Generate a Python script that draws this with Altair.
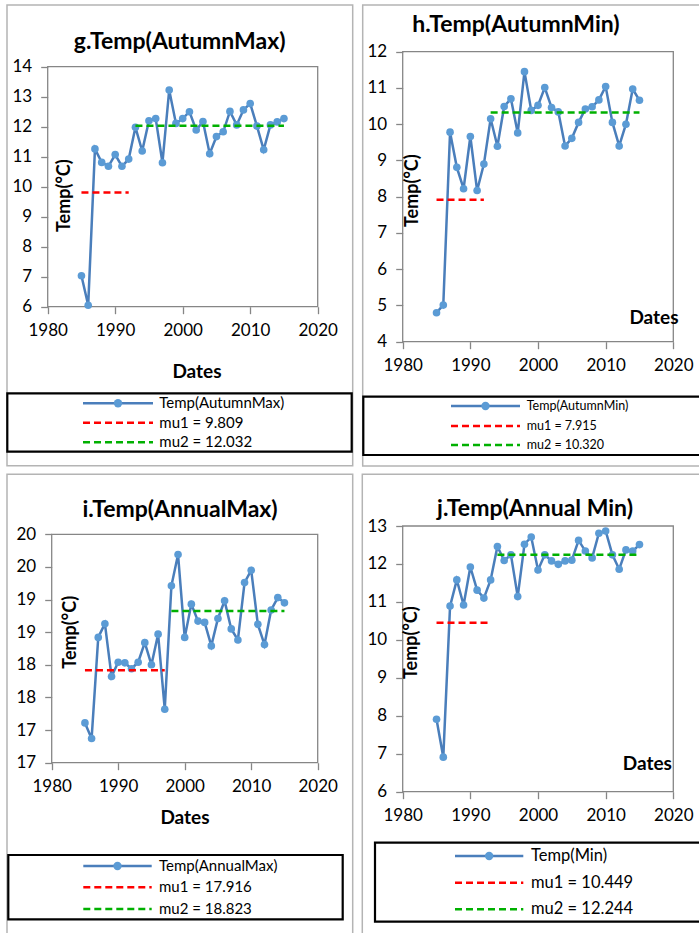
import altair as alt
import pandas as pd

# ---------------- data ----------------
years = list(range(1985, 2016))
autumn_max = [7.03, 6.05, 11.26, 10.81, 10.68, 11.07, 10.68, 10.92, 11.98, 11.19, 12.20,
              12.27, 10.80, 13.22, 12.11, 12.27, 12.50, 11.89, 12.17, 11.10, 11.67, 11.83,
              12.51, 12.06, 12.56, 12.77, 12.02, 11.23, 12.06, 12.16, 12.27]
autumn_min = [4.80, 5.01, 9.78, 8.81, 8.22, 9.66, 8.17, 8.90, 10.15, 9.39, 10.49,
              10.70, 9.76, 11.45, 10.38, 10.52, 11.01, 10.46, 10.34, 9.40, 9.61, 10.05,
              10.42, 10.48, 10.67, 11.04, 10.05, 9.40, 10.00, 10.97, 10.66]
annual_max = [17.11, 16.87, 18.42, 18.63, 17.82, 18.04, 18.03, 17.94, 18.04, 18.34, 18.00,
              18.47, 17.32, 19.21, 19.69, 18.42, 18.93, 18.67, 18.65, 18.29, 18.71, 18.98,
              18.55, 18.38, 19.26, 19.45, 18.62, 18.31, 18.84, 19.03, 18.95]
annual_min = [7.91, 6.91, 10.89, 11.58, 10.92, 11.92, 11.31, 11.10, 11.58, 12.46, 12.09,
              12.24, 11.14, 12.52, 12.71, 11.84, 12.24, 12.08, 11.99, 12.08, 12.10, 12.62,
              12.34, 12.16, 12.81, 12.87, 12.24, 11.86, 12.37, 12.34, 12.51]

series = [autumn_max, autumn_min, annual_max, annual_min]
titles = ["g.Temp(AutumnMax)", "h.Temp(AutumnMin)", "i.Temp(AnnualMax)", "j.Temp(Annual Min)"]
series_names = ["Temp(AutumnMax)", "Temp(AutumnMin)", "Temp(AnnualMax)", "Temp(Min)"]
mu1 = [9.809, 7.915, 17.916, 10.449]
mu2 = [12.032, 10.320, 18.823, 12.244]
mu1_from = [1985, 1985, 1985, 1985]
mu1_to = [1992, 1992, 1997, 1993]
mu2_from = [1993, 1993, 1998, 1994]
mu2_to = [2015, 2015, 2015, 2015]
x_ticks = [1980, 1990, 2000, 2010, 2020]
y_domains = [[6, 14], [4, 12], [16.5, 20], [6, 13]]
y_ticks = [list(range(6, 15)), list(range(4, 13)),
           [16.5, 17, 17.5, 18, 18.5, 19, 19.5, 20], list(range(6, 14))]

# ---------------- layout (pixels) ----------------
W, H = 699, 933
FONT = "Lato"
LINE_C, MARK_C, RED, GREEN = "#4a7ebb", "#5b9bd5", "#ff0000", "#00b000"
AX_C = "#868686"

layout = [
    dict(x0=47.7, x1=317.7, yb=306.7, yt=66.7, title=(179.7, 42), dates=(197, 372.3),
         temp=(65, 195.7), box=(7.3, 351.7, 393.3, 451.7), samp=(83, 153),
         rows=(403.3, 422.7, 442.3), tx=159.3, lfs=15, panel=(7, 352.7, 5, 465.7)),
    dict(x0=402.7, x1=673.3, yb=341.7, yt=51.7, title=(516, 25), dates=(654, 318.3),
         temp=(412.7, 190.7), box=(363.3, 706, 396.7, 455), samp=(451, 520),
         rows=(406, 426, 445), tx=526.7, lfs=12.5, panel=(362.7, 706, 5, 466)),
    dict(x0=51.7, x1=317.7, yb=762.7, yt=534.3, title=(180, 510), dates=(185, 818.3),
         temp=(70.7, 632.3), box=(8.3, 342.7, 855, 919.3), samp=(83.3, 151.7),
         rows=(866, 887.3, 909), tx=159, lfs=15, panel=(7, 352.7, 474.3, 940)),
    dict(x0=402.7, x1=673.3, yb=791.7, yt=526, title=(535, 509.3), dates=(647.3, 764),
         temp=(411.7, 642.7), box=(375, 706, 842.7, 921.7), samp=(455, 523.3),
         rows=(856, 882.7, 909.3), tx=531, lfs=16.5, panel=(362.3, 706, 474.3, 940)),
]


def px(field):
    return alt.X(f"{field}:Q", scale=None, axis=None)


def py(field):
    return alt.Y(f"{field}:Q", scale=None, axis=None)


panels = []
for i, p in enumerate(layout):
    df = pd.DataFrame({"year": years, "temp": series[i]})
    xs = alt.Scale(domain=[1980, 2020], range=[p["x0"], p["x1"]], nice=False, zero=False)
    ys = alt.Scale(domain=y_domains[i], range=[p["yb"], p["yt"]], nice=False, zero=False)
    common = dict(title=None, grid=False, domain=False, tickColor=AX_C, tickWidth=1.3,
                  tickSize=7, labelFont=FONT, labelFontSize=17, labelColor="black",
                  labelOverlap=False, labelFlush=False)
    xax = alt.Axis(orient="bottom", offset=p["yb"] - H, values=x_ticks, format="d",
                   labelPadding=9, **common)
    yax = alt.Axis(orient="left", offset=-p["x0"], values=y_ticks[i], format=".0f",
                   labelPadding=9, **common)
    X = alt.X("year:Q", scale=xs, axis=xax)
    Y = alt.Y("temp:Q", scale=ys, axis=yax)

    line = alt.Chart(df).mark_line(color=LINE_C, strokeWidth=2.5).encode(X, Y)
    pts = alt.Chart(df).mark_circle(color=MARK_C, size=58, opacity=1).encode(X, Y)
    d1 = pd.DataFrame({"year": [mu1_from[i]], "year2": [mu1_to[i]], "temp": [mu1[i]]})
    d2 = pd.DataFrame({"year": [mu2_from[i]], "year2": [mu2_to[i]], "temp": [mu2[i]]})
    r1 = alt.Chart(d1).mark_rule(color=RED, strokeWidth=2.5, strokeDash=[7, 4]).encode(
        X, alt.X2("year2:Q"), Y)
    r2 = alt.Chart(d2).mark_rule(color=GREEN, strokeWidth=2.5, strokeDash=[7, 4]).encode(
        X, alt.X2("year2:Q"), Y)
    panels.append(alt.layer(line, pts, r1, r2))

# ---------------- decorations ----------------
outer = pd.DataFrame([dict(x=p["panel"][0], x2=p["panel"][1], y=p["panel"][2], y2=p["panel"][3])
                      for p in layout])
frames = pd.DataFrame([dict(x=p["x0"], x2=p["x1"], y=p["yt"], y2=p["yb"]) for p in layout])
lboxes = pd.DataFrame([dict(x=p["box"][0], x2=p["box"][1], y=p["box"][2], y2=p["box"][3])
                       for p in layout])


def rects(df, color, width):
    return alt.Chart(df).mark_rect(fill="white", fillOpacity=0, stroke=color,
                                   strokeWidth=width).encode(
        px("x"), alt.X2("x2:Q"), py("y"), alt.Y2("y2:Q"))


deco = [rects(outer, "#b4b4b4", 1.5), rects(frames, AX_C, 1.3), rects(lboxes, "black", 2.2)]

samples = pd.DataFrame([dict(x=p["samp"][0], x2=p["samp"][1], y=p["rows"][k], k=k)
                        for p in layout for k in range(3)])
for k, col, dash in [(0, LINE_C, None), (1, RED, [7, 4]), (2, GREEN, [7, 4])]:
    kw = dict(color=col, strokeWidth=2.5)
    if dash:
        kw["strokeDash"] = dash
    deco.append(alt.Chart(samples[samples.k == k]).mark_rule(**kw).encode(
        px("x"), alt.X2("x2:Q"), py("y")))
marks = pd.DataFrame([dict(x=(p["samp"][0] + p["samp"][1]) / 2, y=p["rows"][0]) for p in layout])
deco.append(alt.Chart(marks).mark_circle(color=MARK_C, size=70, opacity=1).encode(px("x"), py("y")))

ltext = pd.DataFrame([dict(x=p["tx"], y=p["rows"][k], s=p["lfs"],
                           t=[series_names[i], f"mu1 = {mu1[i]:.3f}", f"mu2 = {mu2[i]:.3f}"][k])
                      for i, p in enumerate(layout) for k in range(3)])
deco.append(alt.Chart(ltext).mark_text(font=FONT, align="left", baseline="middle", color="black").encode(
    px("x"), py("y"), text="t:N", size=alt.Size("s:Q", scale=None, legend=None)))

btext = pd.DataFrame(
    [dict(x=p["title"][0], y=p["title"][1], s=23, t=titles[i]) for i, p in enumerate(layout)] +
    [dict(x=p["dates"][0], y=p["dates"][1], s=19, t="Dates") for p in layout])
deco.append(alt.Chart(btext).mark_text(font=FONT, fontWeight="bold", align="center",
                                       baseline="middle", color="black").encode(
    px("x"), py("y"), text="t:N", size=alt.Size("s:Q", scale=None, legend=None)))

ttext = pd.DataFrame([dict(x=p["temp"][0], y=p["temp"][1], s=18, t="Temp(°C)") for p in layout])
deco.append(alt.Chart(ttext).mark_text(font=FONT, fontWeight="bold", align="center",
                                       baseline="middle", angle=270, color="black").encode(
    px("x"), py("y"), text="t:N", size=alt.Size("s:Q", scale=None, legend=None)))

chart = alt.layer(*deco[:2], *panels, *deco[2:]).resolve_scale(
    x="independent", y="independent").properties(
    width=W, height=H, autosize=alt.AutoSizeParams(type="none"), padding=0,
    background="white").configure_view(strokeWidth=0)

chart.save("out.html", embed_options={"renderer": "svg", "actions": False})
